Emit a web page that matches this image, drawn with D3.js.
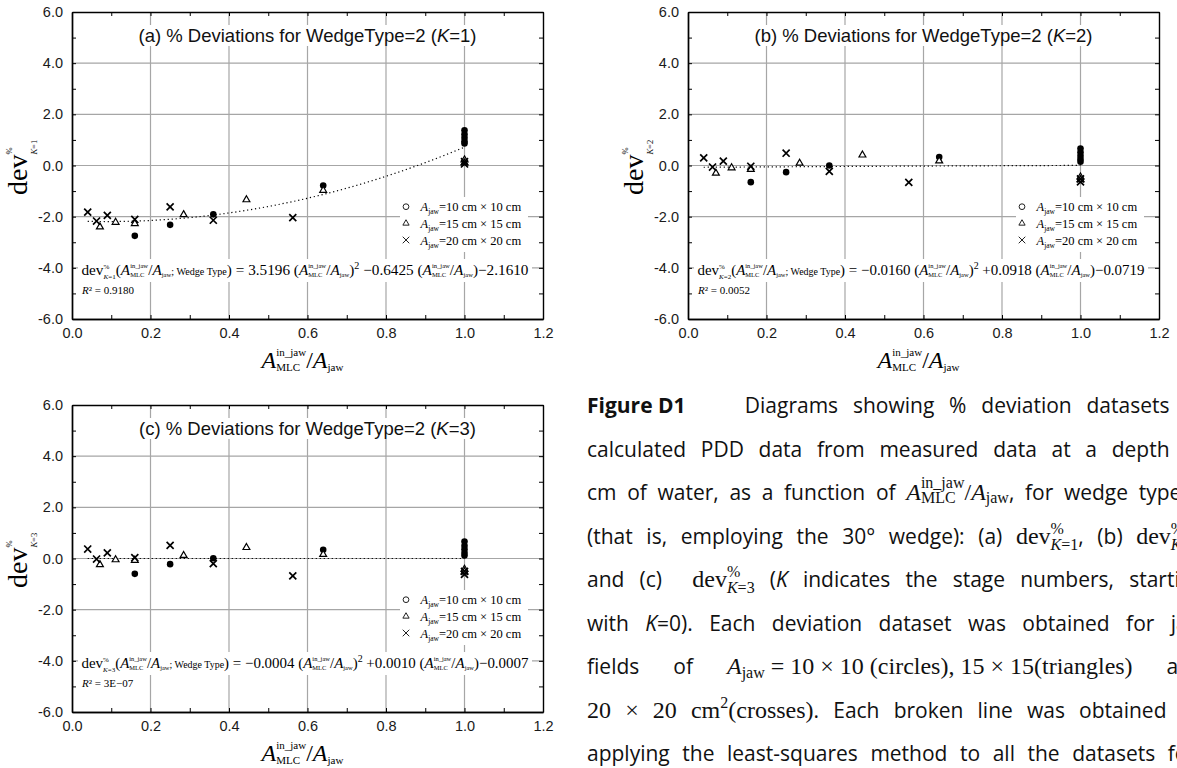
<!DOCTYPE html>
<html lang="en">
<head>
<meta charset="UTF-8">
<title>Figure D1</title>
<script src="https://cdn.jsdelivr.net/npm/d3@7"></script>
<style>
    html, body { margin: 0; background: #fff; }
    svg { display: block; }
    text { white-space: pre; }
</style>
</head>
<body>
<svg id="chart" width="1177" height="768"></svg>
<script>
// ---- data ----
const xTicks = [0, 0.2, 0.4, 0.6, 0.8, 1.0, 1.2];
const yTicks = [-6, -4, -2, 0, 2, 4, 6];

// field-size ratios for each jaw setting
const xCircle   = [0.16, 0.25, 0.36, 0.64, 1, 1, 1, 1, 1];
const xTriangle = [0.0711, 0.1111, 0.16, 0.2844, 0.4444, 0.64, 1, 1];
const xCross    = [0.04, 0.0625, 0.09, 0.16, 0.25, 0.36, 0.5625, 1, 1];

const yCircleK1   = [-2.75, -2.32, -1.91, -0.78, 1.38, 1.22, 1.08, 0.95, 0.86];
const yTriangleK1 = [-2.40, -2.22, -2.27, -1.92, -1.34, -0.97, 0.22, 0.10];
const yCrossK1    = [-1.82, -2.17, -1.95, -2.11, -1.62, -2.14, -2.04, 0.15, 0.06];

const yCircleK2   = [-0.65, -0.26, 0.00, 0.33, 0.66, 0.52, 0.38, 0.25, 0.15];
const yTriangleK2 = [-0.30, -0.09, -0.15, 0.09, 0.41, 0.18, -0.45, -0.55];
const yCrossK2    = [0.30, -0.06, 0.17, -0.03, 0.48, -0.23, -0.66, -0.52, -0.64];

const yCircleK3   = [-0.60, -0.22, 0.01, 0.34, 0.66, 0.50, 0.36, 0.22, 0.12];
const yTriangleK3 = [-0.24, -0.05, -0.07, 0.12, 0.43, 0.16, -0.42, -0.52];
const yCrossK3    = [0.37, -0.02, 0.22, 0.03, 0.51, -0.20, -0.68, -0.50, -0.62];

// least-squares quadratic fits: a x^2 + b x + c
const fitK1 = [3.5196, -0.6425, -2.1610];
const fitK2 = [-0.0160, 0.0918, -0.0719];
const fitK3 = [-0.0004, 0.0010, -0.0007];
const r2Labels = ['0.9180', '0.0052', '3E\u221207'];
const panelLetters = ['(a)', '(b)', '(c)'];
const legendLabels = ['10 cm \u00d7 10 cm', '15 cm \u00d7 15 cm', '20 cm \u00d7 20 cm'];

const captionLines = [
    ['#Figure D1#', '', '', '', 'Diagrams', 'showing', '%', 'deviation', 'datasets', 'of'],
    ['calculated', 'PDD', 'data', 'from', 'measured', 'data', 'at', 'a', 'depth', 'of'],
    ['cm', 'of', 'water,', 'as', 'a', 'function', 'of', '[R],', 'for', 'wedge', 'type', '2'],
    ['(that', 'is,', 'employing', 'the', '30\u00b0', 'wedge):', '(a)', '[D1],', '(b)', '[D2],'],
    ['and', '(c)', '', '[D3]', '(*K*', 'indicates', 'the', 'stage', 'numbers,', 'starting'],
    ['with', '*K*=0).', 'Each', 'deviation', 'dataset', 'was', 'obtained', 'for', 'jaw'],
    ['fields', 'of', '[Aj]~ = 10 \u00d7 10 (circles), 15 \u00d7 15(triangles)~', 'and'],
    ['~20~', '~\u00d7~', '~20~', '~cm~^2~(crosses)~.', 'Each', 'broken', 'line', 'was', 'obtained', 'by'],
    ['applying', 'the', 'least-squares', 'method', 'to', 'all', 'the', 'datasets', 'for']
];

// ---- setup ----
const SANS = "'Liberation Sans', Arial, sans-serif";
const SERIF = "'Liberation Serif', 'Times New Roman', serif";
const OPEN = "'Open Sans', sans-serif";
const svg = d3.select('#chart');
const W = 471, H = 307;

const run = (t, f, s, o = {}) => Object.assign({ t, f, s }, o);

// writes a list of runs from (x, y); returns the width used
function put(g, runs, x, y) {
    let cx = x;
    runs.forEach(r => {
        if (r.sup || r.sub) {
            const w1 = r.sup ? put(g, r.sup, cx, y + r.su) : 0;
            const w2 = r.sub ? put(g, r.sub, cx, y + r.sd) : 0;
            cx += Math.max(w1, w2);
            return;
        }
        const t = g.append('text')
            .attr('x', cx).attr('y', y + (r.dy || 0))
            .attr('xml:space', 'preserve')
            .style('font-family', r.f)
            .style('font-size', r.s + 'px')
            .style('font-style', r.it ? 'italic' : 'normal')
            .style('font-weight', r.b ? 'bold' : 'normal')
            .attr('fill', '#000')
            .text(r.t);
        cx += t.node().getComputedTextLength();
    });
    return cx - x;
}

function ratio(s, ss, f = SERIF) {
    return [
        run('A', f, s, { it: true }),
        { sup: [run('in_jaw', f, ss)], sub: [run('MLC', f, ss)], su: -s * 0.48, sd: s * 0.14 },
        run('/', f, s),
        run('A', f, s, { it: true }),
        run('jaw', f, ss, { dy: s * 0.14 })
    ];
}

function dev(s, ss, k, su, sd) {
    return [
        run('dev', SERIF, s),
        { sup: [run('%', SERIF, ss)], sub: [run('K', SERIF, ss, { it: true }), run('=' + k, SERIF, ss)], su, sd }
    ];
}

function symbolTimes(size) {
    if (d3.symbolTimes) return d3.symbol(d3.symbolTimes, size)();
    const r = Math.sqrt(size) * 0.5;
    return `M${-r},${-r}L${r},${r}M${-r},${r}L${r},${-r}`;
}

const panels = [
    { px: 72, py: 12, k: 1, fit: fitK1, yc: yCircleK1, yt: yTriangleK1, yx: yCrossK1 },
    { px: 688, py: 12, k: 2, fit: fitK2, yc: yCircleK2, yt: yTriangleK2, yx: yCrossK2 },
    { px: 72, py: 405, k: 3, fit: fitK3, yc: yCircleK3, yt: yTriangleK3, yx: yCrossK3 }
];

panels.forEach((p, pi) => {
    const g = svg.append('g');
    const x = d3.scaleLinear().domain([0, 1.2]).range([p.px, p.px + W]);
    const y = d3.scaleLinear().domain([-6, 6]).range([p.py + H, p.py]);

    // grid
    g.append('g').selectAll('line').data(xTicks.slice(1, -1)).join('line')
        .attr('x1', d => x(d)).attr('x2', d => x(d))
        .attr('y1', p.py).attr('y2', p.py + H)
        .attr('stroke', '#a6a6a6').attr('stroke-width', 1.2);
    g.append('g').selectAll('line').data(yTicks.slice(1, -1)).join('line')
        .attr('y1', d => y(d)).attr('y2', d => y(d))
        .attr('x1', p.px).attr('x2', p.px + W)
        .attr('stroke', '#a6a6a6').attr('stroke-width', 1.2);

    // fitted curve
    const xs = d3.range(0.04, 1.0001, 0.01);
    const f = p.fit;
    g.append('path')
        .attr('d', d3.line().x(d => x(d)).y(d => y(f[0] * d * d + f[1] * d + f[2]))(xs))
        .attr('fill', 'none').attr('stroke', '#000')
        .attr('stroke-width', 1.2).attr('stroke-dasharray', '1.2 2.8');

    // points
    g.append('g').selectAll('path').data(xCircle.map((v, i) => [v, p.yc[i]])).join('path')
        .attr('d', d3.symbol(d3.symbolCircle, 34)())
        .attr('transform', d => `translate(${x(d[0])},${y(d[1])})`)
        .attr('fill', '#000');
    g.append('g').selectAll('path').data(xTriangle.map((v, i) => [v, p.yt[i]])).join('path')
        .attr('d', d3.symbol(d3.symbolTriangle2 || d3.symbolTriangle, 34)())
        .attr('transform', d => `translate(${x(d[0])},${y(d[1])})`)
        .attr('fill', '#fff').attr('stroke', '#000').attr('stroke-width', 1.2);
    g.append('g').selectAll('path').data(xCross.map((v, i) => [v, p.yx[i]])).join('path')
        .attr('d', symbolTimes(34))
        .attr('transform', d => `translate(${x(d[0])},${y(d[1])})`)
        .attr('fill', 'none').attr('stroke', '#000').attr('stroke-width', 1.7);

    // axes
    const fmt = d => d.toFixed(1);
    const styleAxis = a => {
        a.select('.domain').attr('stroke', '#000').attr('stroke-width', 1.4);
        a.selectAll('.tick line').attr('stroke', '#000').attr('stroke-width', 1);
        a.selectAll('text').style('font-family', SANS).style('font-size', '14.5px').attr('fill', '#1a1a1a');
    };
    const minorX = d3.range(13).map(i => i / 10);
    const minorY = d3.range(13).map(i => i - 6);
    g.append('g').attr('transform', `translate(0,${p.py})`)
        .call(d3.axisTop(x).tickValues(minorX).tickFormat('').tickSize(-4).tickSizeOuter(0)).call(styleAxis);
    g.append('g').attr('transform', `translate(${p.px + W},0)`)
        .call(d3.axisRight(y).tickValues(minorY).tickFormat('').tickSize(-4).tickSizeOuter(0)).call(styleAxis);
    g.append('g').attr('transform', `translate(0,${p.py + H})`)
        .call(d3.axisBottom(x).tickValues(minorX).tickFormat('').tickSize(-4).tickSizeOuter(0)).call(styleAxis);
    g.append('g').attr('transform', `translate(${p.px},0)`)
        .call(d3.axisLeft(y).tickValues(minorY).tickFormat('').tickSize(-4).tickSizeOuter(0)).call(styleAxis);
    g.append('g').attr('transform', `translate(0,${p.py + H})`)
        .call(d3.axisBottom(x).tickValues(xTicks).tickFormat(fmt).tickSize(0).tickSizeOuter(0).tickPadding(9))
        .call(styleAxis);
    g.append('g').attr('transform', `translate(${p.px},0)`)
        .call(d3.axisLeft(y).tickValues(yTicks).tickFormat(fmt).tickSize(0).tickSizeOuter(0).tickPadding(9))
        .call(styleAxis);

    // title with white box
    const tg = g.append('g');
    const title = tg.append('text')
        .attr('x', p.px + W / 2).attr('y', p.py + 30)
        .attr('text-anchor', 'middle')
        .style('font-family', SANS).style('font-size', '18.5px').attr('fill', '#111');
    title.append('tspan').text(`${panelLetters[pi]} % Deviations for WedgeType=2 (`);
    title.append('tspan').style('font-style', 'italic').text('K');
    title.append('tspan').text(`=${p.k})`);
    const tb = title.node().getBBox();
    tg.insert('rect', 'text').attr('x', tb.x - 3).attr('y', tb.y).attr('width', tb.width + 6).attr('height', tb.height)
        .attr('fill', '#fff');

    // equation
    const eg = g.append('g');
    const eb = eg.append('rect').attr('fill', '#fff');
    const et = eg.append('g');
    const sgn = (v, first) => (v < 0 ? '\u2212' : (first ? '' : '+')) + Math.abs(v).toFixed(4);
    const s = 15, ss = 6.5;
    const M = t => run(t, SERIF, s);
    const eqRuns = [
        ...dev(s, 7, p.k, -6.5, 3.5),
        M('('), ...ratio(s, ss), run('; Wedge Type', SERIF, 10), M(')'),
        M(' = ' + sgn(f[0], true) + ' ('), ...ratio(s, ss), M(')'), run('2', SERIF, 10, { dy: -6 }),
        M(' ' + sgn(f[1]) + ' ('), ...ratio(s, ss), M(')' + sgn(f[2]))
    ];
    const ew = put(et, eqRuns, 0, 0);
    const target = 447;
    et.attr('transform', `translate(${p.px + 9.5},${p.py + 263}) scale(${target / ew},1)`);
    eb.attr('x', p.px + 6).attr('y', p.py + 247).attr('width', target + 7).attr('height', 23);

    put(g, [run('R', SERIF, 11, { it: true }), run('\u00b2 = ' + r2Labels[pi], SERIF, 11)], p.px + 10, p.py + 282);

    // legend
    const lg = g.append('g');
    lg.append('rect').attr('x', p.px + 328).attr('y', p.py + 185).attr('width', 128).attr('height', 55)
        .attr('fill', '#fff');
    const legSyms = [
        d3.symbol(d3.symbolCircle, 26)(),
        d3.symbol(d3.symbolTriangle2 || d3.symbolTriangle, 28)(),
        symbolTimes(30)
    ];
    legendLabels.forEach((lab, i) => {
        const cy = p.py + 194.7 + i * 16.65;
        lg.append('path').attr('d', legSyms[i])
            .attr('transform', `translate(${p.px + 334},${cy})`)
            .attr('fill', 'none').attr('stroke', '#222').attr('stroke-width', 1);
        put(lg, [run('A', SERIF, 12.5, { it: true }), run('jaw', SERIF, 7.5, { dy: 3 }), run('=' + lab, SERIF, 12.5)],
            p.px + 348.5, cy + 4.5);
    });

    // axis titles
    const xt = g.append('g');
    const xw = put(xt, ratio(24, 11), 0, 0);
    xt.attr('transform', `translate(${p.px + W / 2 - 5 - xw / 2},${p.py + 356})`);

    const yt = g.append('g').attr('transform', `translate(${p.px - 45},${p.py + 183}) rotate(-90)`);
    put(yt, dev(28, 8.5, p.k, -15, 10), 0, 0);
});

// ---- caption (justified lines) ----
const capLeft = 587;
const capRight = [1204, 1204, 1204, 1204, 1204, 1204, 1204, 1204, 1196];
const SS = 21, MS = 24, MSS = 16;

function parseWord(w) {
    const runs = [];
    const re = /\[R\]|\[D(\d)\]|\[Aj\]|#([^#]+)#|\*([^*]+)\*|~([^~]+)~|\^(\S)|([^\[#*~^]+)/g;
    let m;
    while ((m = re.exec(w))) {
        if (m[0] === '[R]') runs.push(...ratio(MS, MSS));
        else if (m[1]) runs.push(...dev(MS, MSS, m[1], -10, 6));
        else if (m[0] === '[Aj]') runs.push(run('A', SERIF, MS, { it: true }), run('jaw', SERIF, MSS, { dy: 4 }));
        else if (m[2]) runs.push(run(m[2], OPEN, SS, { b: true }));
        else if (m[3]) runs.push(run(m[3], OPEN, SS, { it: true }));
        else if (m[4]) runs.push(run(m[4], SERIF, MS));
        else if (m[5]) runs.push(run(m[5], SERIF, MSS, { dy: -10 }));
        else if (m[6]) runs.push(run(m[6], OPEN, SS));
    }
    return runs;
}

const cap = svg.append('g');
captionLines.forEach((words, i) => {
    const yb = 413 + i * 43.5;
    const items = words.map(w => {
        const wg = cap.append('g');
        return { wg, wd: put(wg, parseWord(w), 0, 0) };
    });
    const gap = (capRight[i] - capLeft - d3.sum(items, d => d.wd)) / (items.length - 1);
    let cx = capLeft;
    items.forEach(d => {
        d.wg.attr('transform', `translate(${cx},${yb})`);
        cx += d.wd + gap;
    });
});
cap.selectAll('text').attr('fill', '#111');
</script>
</body>
</html>
